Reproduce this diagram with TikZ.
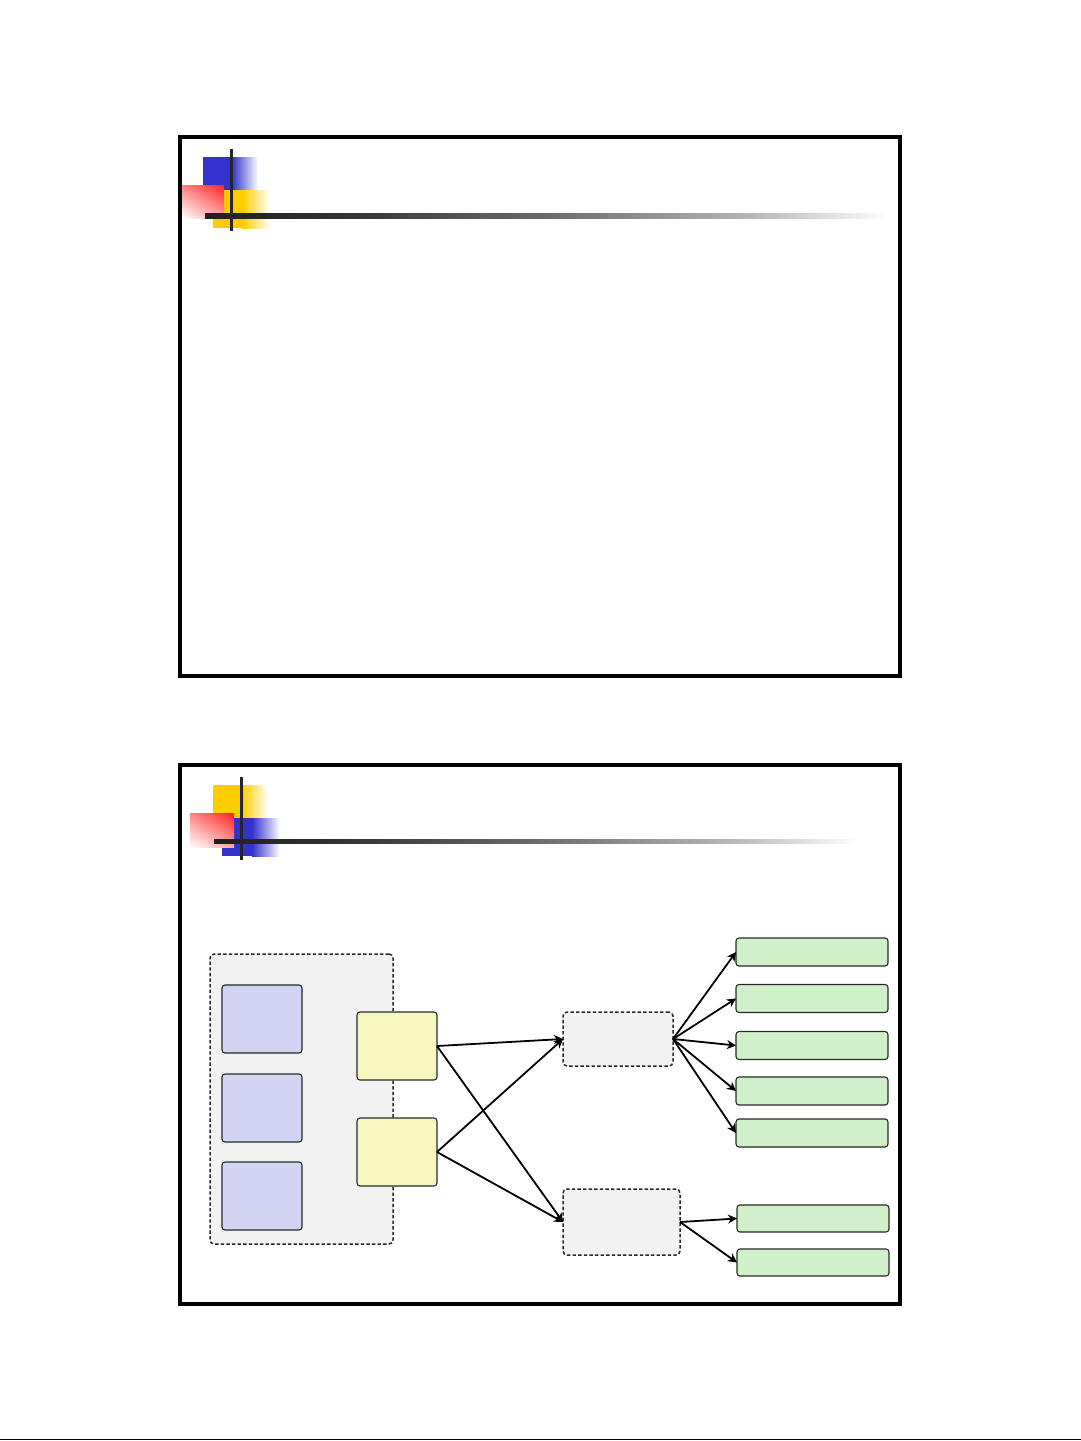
\documentclass[tikz,border=0pt]{standalone}
\usetikzlibrary{arrows.meta,shadings}
\definecolor{blueC}{RGB}{51,51,204}
\definecolor{yelC}{RGB}{255,204,0}
\definecolor{redC}{RGB}{255,32,32}
\definecolor{lavC}{RGB}{211,211,243}
\definecolor{ylwC}{RGB}{246,246,192}
\definecolor{grnC}{RGB}{207,240,200}
\definecolor{gryC}{RGB}{242,242,242}
\definecolor{edgeC}{RGB}{40,40,40}
\pgfdeclarehorizontalshading{barshade}{100bp}{color(0bp)=(black!88); color(25bp)=(black!88); color(35bp)=(black!80); color(50bp)=(black!58); color(65bp)=(black!28); color(75bp)=(white); color(100bp)=(white)}
\tikzset{
  frame/.style={draw=black, line width=2pt, line join=miter},
  solidbox/.style={draw=edgeC, line width=0.55pt, rounded corners=1.5pt, inner sep=0pt, outer sep=0pt},
  dashbox/.style={draw=edgeC, line width=0.75pt, dash pattern=on 1.7pt off 1.1pt, rounded corners=2pt, fill=gryC, inner sep=0pt, outer sep=0pt},
  lavbox/.style={solidbox, fill=lavC, minimum width=40pt, minimum height=34pt},
  ylwbox/.style={solidbox, fill=ylwC, minimum width=40pt, minimum height=34pt},
  grnbox/.style={solidbox, fill=grnC, minimum width=76pt, minimum height=14pt},
  conn/.style={draw=black, line width=0.9pt, -{Stealth[length=4.5pt,width=4.5pt,inset=1.4pt]}},
  redfade/.style={upper right=redC, upper left=redC!55!white, lower right=redC!40!white, lower left=white},
}
\begin{document}
\begin{tikzpicture}[x=0.5pt,y=-0.5pt]
\useasboundingbox[fill=white] (0,0) rectangle (1081,1441);
% ---------- slide 1 ----------
\draw[frame] (180,137) rectangle (900,676);
\fill[blueC] (203,157) rectangle (232,190);
\shade[left color=blueC, right color=white] (232,157) rectangle (258,190);
\fill[yelC] (213,190) rectangle (242,228);
\shade[left color=yelC, right color=white] (242,190) rectangle (270,228);
\shade[redfade] (182,185) rectangle (224,218);
\shade[shading=barshade] (205,213.5) rectangle (890,218.5);
\draw[line width=1.5pt, black!85] (231,149) -- (231,231);
% ---------- slide 2 ----------
\draw[frame] (180,765) rectangle (900,1304);
\fill[yelC] (213,785) rectangle (242,818);
\shade[left color=yelC, right color=white] (242,785) rectangle (268,818);
\fill[blueC] (222,818) rectangle (252,856);
\shade[left color=blueC, right color=white] (252,818) rectangle (280,856);
\shade[redfade] (190,813) rectangle (234,847);
\shade[shading=barshade] (214,839) rectangle (860,843);
\draw[line width=1.5pt, black!85] (241,777) -- (241,860);
% diagram
\node[dashbox, minimum width=91.5pt, minimum height=145pt] (cont) at (301.5,1099) {};
\node[lavbox] (b1) at (262,1019) {};
\node[lavbox] (b2) at (262,1108) {};
\node[lavbox] (b3) at (262,1196) {};
\node[ylwbox] (y1) at (397,1046) {};
\node[ylwbox] (y2) at (397,1152) {};
\node[dashbox, minimum width=55pt, minimum height=27pt] (g1) at (618,1039) {};
\node[dashbox, minimum width=58.5pt, minimum height=33pt] (g2) at (621.5,1222) {};
\node[grnbox] (n1) at (812,952) {};
\node[grnbox] (n2) at (812,998.5) {};
\node[grnbox] (n3) at (812,1045.5) {};
\node[grnbox] (n4) at (812,1091) {};
\node[grnbox] (n5) at (812,1133) {};
\node[grnbox, minimum height=13.5pt] (n6) at (813,1218.5) {};
\node[grnbox, minimum height=13.5pt] (n7) at (813,1262.5) {};
\draw[conn] (y1.east) -- (g1.west);
\draw[conn] (y1.east) -- (g2.west);
\draw[conn] (y2.east) -- (g1.west);
\draw[conn] (y2.east) -- (g2.west);
\foreach \n in {n1,n2,n3,n4,n5} \draw[conn] (g1.east) -- (\n.west);
\foreach \n in {n6,n7} \draw[conn] (g2.east) -- (\n.west);
% bottom rule
\draw[line width=0.8pt, black] (0,1439.6) -- (1081,1439.6);
\end{tikzpicture}
\end{document}
